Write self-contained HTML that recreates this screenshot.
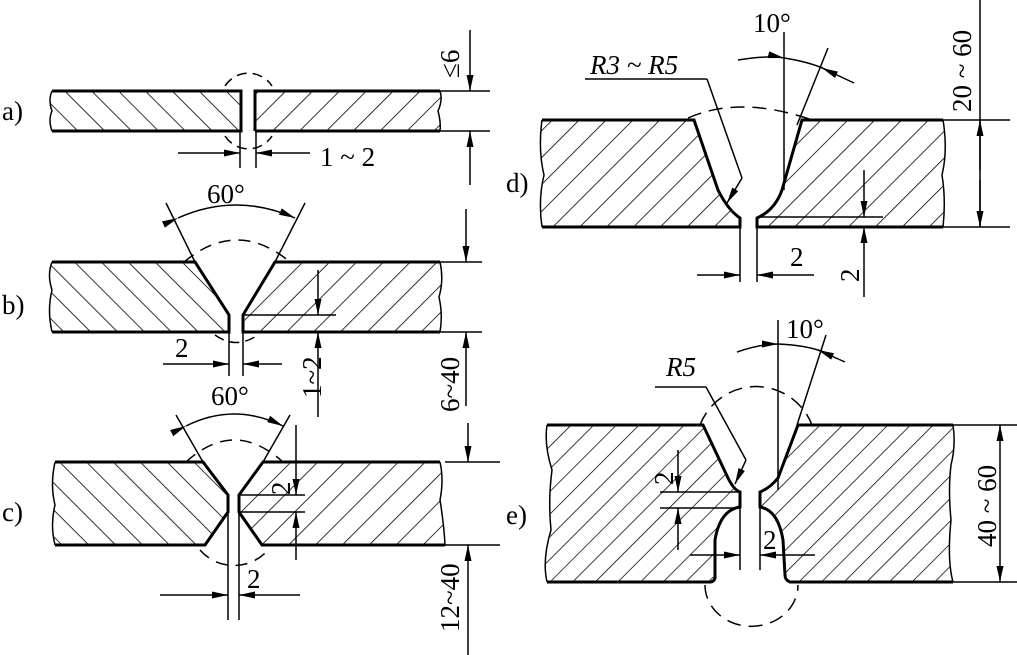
<!DOCTYPE html>
<html><head><meta charset="utf-8"><style>
html,body{margin:0;padding:0;background:#fff;}
svg{display:block;}
text{font-family:"Liberation Serif",serif;fill:#000;}
</style></head><body>
<svg width="1017" height="655" viewBox="0 0 1017 655" xmlns="http://www.w3.org/2000/svg">
<defs>
<pattern id="hb" patternUnits="userSpaceOnUse" width="19" height="19" patternTransform="rotate(-45)">
<line x1="0" y1="0" x2="0" y2="19" stroke="#000" stroke-width="1.6"/></pattern>
<pattern id="hf" patternUnits="userSpaceOnUse" width="19" height="19" patternTransform="rotate(45)">
<line x1="0" y1="0" x2="0" y2="19" stroke="#000" stroke-width="1.6"/></pattern>
<pattern id="hf2" patternUnits="userSpaceOnUse" width="16" height="16" patternTransform="rotate(45)">
<line x1="0" y1="0" x2="0" y2="16" stroke="#000" stroke-width="1.5"/></pattern>
<marker id="ar" viewBox="0 0 16 7" refX="16" refY="3.5" markerWidth="16" markerHeight="7" markerUnits="userSpaceOnUse" orient="auto">
<path d="M0,0 L16,3.5 L0,7 Z" fill="#000"/></marker>
</defs>

<g stroke="#000" fill="none" stroke-width="1.5">
<!-- ===== a ===== -->
<path d="M52,91 L241,91 L241,131 L52,131 Q48,120 52,111 Q48,100 52,91Z" fill="url(#hb)" stroke="none"/>
<path d="M255,91 L440,91 Q443,100 438,111 Q441,122 440,131 L255,131Z" fill="url(#hf)" stroke="none"/>
<path d="M52,91 L241,91 L241,131 L52,131 M255,131 L255,91 L440,91 M255,131 L440,131" stroke-width="3"/>
<path d="M52,91 Q48,100 52,111 Q48,120 52,131 M440,91 Q443,100 438,111 Q441,122 440,131"/>
<path d="M225,86 A28,28 0 0 1 272,86 M225,136 A28,28 0 0 0 272,136" stroke-dasharray="10,6"/>
<line x1="240" y1="131" x2="240" y2="168"/><line x1="256" y1="131" x2="256" y2="168"/>
<line x1="178" y1="153" x2="240" y2="153" marker-end="url(#ar)"/>
<line x1="310" y1="153" x2="256" y2="153" marker-end="url(#ar)"/>
<line x1="440" y1="91" x2="490" y2="91"/><line x1="440" y1="131" x2="490" y2="131"/>
<line x1="470" y1="30" x2="470" y2="91" marker-end="url(#ar)"/>
<line x1="470" y1="185" x2="470" y2="131" marker-end="url(#ar)"/>

<!-- ===== b ===== -->
<path d="M52,262 L195,262 L229,315 L229,332 L52,332 Q47,310 52,290 Q47,275 52,262Z" fill="url(#hb)" stroke="none"/>
<path d="M275,262 L440,262 Q444,280 439,297 Q443,315 440,332 L243,332 L243,315Z" fill="url(#hf)" stroke="none"/>
<path d="M52,262 L195,262 L229,315 L229,332 L52,332 M440,262 L275,262 L243,315 L243,332 L440,332" stroke-width="3"/>
<path d="M52,262 Q47,275 52,290 Q47,310 52,332 M440,262 Q444,280 439,297 Q443,315 440,332"/>
<line x1="166" y1="203" x2="195" y2="262"/><line x1="305" y1="203" x2="275" y2="262"/>
<path d="M178,218 Q236,192 295,218" marker-start="url(#ar)" marker-end="url(#ar)"/>
<path d="M184,262 Q237,218 290,262" stroke-dasharray="12,8"/>
<path d="M215,335 Q236,350 258,335" stroke-dasharray="10,6"/>
<line x1="229" y1="332" x2="229" y2="376"/><line x1="243" y1="332" x2="243" y2="376"/>
<line x1="163" y1="364" x2="229" y2="364" marker-end="url(#ar)"/>
<line x1="282" y1="364" x2="243" y2="364" marker-end="url(#ar)"/>
<line x1="243" y1="315" x2="336" y2="315"/>
<line x1="318" y1="270" x2="318" y2="315" marker-end="url(#ar)"/>
<line x1="318" y1="417" x2="318" y2="332" marker-end="url(#ar)"/>
<line x1="440" y1="262" x2="482" y2="262"/><line x1="440" y1="332" x2="482" y2="332"/>
<line x1="466" y1="209" x2="466" y2="262" marker-end="url(#ar)"/>
<line x1="466" y1="406" x2="466" y2="332" marker-end="url(#ar)"/>

<!-- ===== c ===== -->
<path d="M55,462 L203,462 L228,495 L228,512 L205,545 L55,545 Q50,525 55,505 Q50,485 55,462Z" fill="url(#hb)" stroke="none"/>
<path d="M263,462 L440,462 Q444,480 440,500 Q444,525 445,545 L262,545 L239,512 L239,495Z" fill="url(#hf)" stroke="none"/>
<path d="M55,462 L203,462 L228,495 L228,512 L205,545 L55,545 M440,462 L263,462 L239,495 L239,512 L262,545 L445,545" stroke-width="3"/>
<path d="M55,462 Q50,485 55,505 Q50,525 55,545 M440,462 Q444,480 440,500 Q444,525 445,545"/>
<line x1="176" y1="415" x2="203" y2="462"/><line x1="290" y1="415" x2="263" y2="462"/>
<path d="M186,426 Q234,402 283,426" marker-start="url(#ar)" marker-end="url(#ar)"/>
<path d="M186,462 Q234,418 283,462" stroke-dasharray="12,8"/>
<path d="M200,550 A45,45 0 0 0 268,550" stroke-dasharray="12,8"/>
<line x1="228" y1="512" x2="228" y2="620"/><line x1="239" y1="512" x2="239" y2="620"/>
<line x1="160" y1="595" x2="228" y2="595" marker-end="url(#ar)"/>
<line x1="300" y1="595" x2="239" y2="595" marker-end="url(#ar)"/>
<line x1="239" y1="495" x2="305" y2="495"/><line x1="239" y1="512" x2="305" y2="512"/>
<line x1="296" y1="425" x2="296" y2="495" marker-end="url(#ar)"/>
<line x1="296" y1="560" x2="296" y2="512" marker-end="url(#ar)"/>
<line x1="445" y1="462" x2="500" y2="462"/><line x1="445" y1="545" x2="500" y2="545"/>
<line x1="468" y1="423" x2="468" y2="462" marker-end="url(#ar)"/>
<line x1="468" y1="655" x2="468" y2="545" marker-end="url(#ar)"/>

<!-- ===== d ===== -->
<path d="M542,120 L694,120 L718,190 Q728,210 740,218 L740,227 L542,227 Q538,200 544,175 Q538,150 542,120Z" fill="url(#hf)" stroke="none"/>
<path d="M802,120 L943,120 Q948,150 942,175 Q946,200 943,227 L757,227 L757,218 Q775,210 782,190Z" fill="url(#hf)" stroke="none"/>
<path d="M542,120 L694,120 L718,190 Q728,210 740,218 L740,227 L542,227 M943,120 L802,120 L782,190 Q775,210 757,218 L757,227 L943,227" stroke-width="3"/>
<path d="M542,120 Q538,150 544,175 Q538,200 542,227 M943,120 Q948,150 942,175 Q946,200 943,227"/>
<line x1="784" y1="32" x2="784" y2="190"/>
<line x1="828" y1="48" x2="797" y2="125"/>
<path d="M738,60 Q770,55 784,58" marker-end="url(#ar)"/>
<path d="M784,58 Q810,62 827,70"/>
<line x1="854" y1="83" x2="822" y2="68" marker-end="url(#ar)"/>
<path d="M688,118 Q740,95 812,120" stroke-dasharray="14,8"/>
<line x1="585" y1="79" x2="707" y2="79"/>
<line x1="707" y1="79" x2="742" y2="178"/>
<line x1="742" y1="178" x2="727" y2="203" marker-end="url(#ar)"/>
<line x1="740" y1="227" x2="740" y2="282"/><line x1="757" y1="227" x2="757" y2="282"/>
<line x1="697" y1="275" x2="740" y2="275" marker-end="url(#ar)"/>
<line x1="814" y1="275" x2="757" y2="275" marker-end="url(#ar)"/>
<line x1="760" y1="217" x2="883" y2="217"/>
<line x1="864" y1="170" x2="864" y2="217" marker-end="url(#ar)"/>
<line x1="864" y1="297" x2="864" y2="227" marker-end="url(#ar)"/>
<line x1="943" y1="120" x2="1010" y2="120"/><line x1="943" y1="227" x2="1010" y2="227"/>
<line x1="980" y1="0" x2="980" y2="227"/>
<line x1="980" y1="170" x2="980" y2="120" marker-end="url(#ar)"/>
<line x1="980" y1="180" x2="980" y2="227" marker-end="url(#ar)"/>

<!-- ===== e ===== -->
<path d="M547,425 L703,425 L728,478 Q734,490 740,492 L740,507 Q720,510 715,540 L715,578 Q714,582 710,582 L547,582 Q542,560 551,530 Q548,500 552,470 Q544,445 547,425Z" fill="url(#hf2)" stroke="none"/>
<path d="M798,425 L953,425 Q956,445 951,465 Q948,490 951,520 Q947,560 953,582 L790,582 Q785,580 785,575 L783,540 Q778,510 760,507 L760,492 Q770,488 778,478Z" fill="url(#hf2)" stroke="none"/>
<path d="M547,425 L703,425 L728,478 Q734,490 740,492 L740,507 Q720,510 715,540 L715,578 Q714,582 710,582 L547,582 M953,425 L798,425 L778,478 Q770,488 760,492 L760,507 Q778,510 783,540 L785,575 Q785,580 790,582 L953,582" stroke-width="3"/>
<path d="M547,425 Q544,445 552,470 Q548,500 551,530 Q542,560 547,582 M953,425 Q956,445 951,465 Q948,490 951,520 Q947,560 953,582"/>
<line x1="778" y1="320" x2="778" y2="490"/>
<line x1="826" y1="335" x2="797" y2="425"/>
<path d="M737,352 Q760,344 778,344" marker-end="url(#ar)"/>
<path d="M778,344 Q805,345 824,352"/>
<line x1="845" y1="362" x2="818" y2="350" marker-end="url(#ar)"/>
<path d="M700,425 A60,60 0 0 1 812,425" stroke-dasharray="14,8"/>
<path d="M705,585 A45,40 0 0 0 798,585" stroke-dasharray="14,8"/>
<line x1="655" y1="387" x2="706" y2="387"/>
<line x1="706" y1="387" x2="746" y2="460"/>
<line x1="746" y1="460" x2="735" y2="484" marker-end="url(#ar)"/>
<line x1="740" y1="507" x2="740" y2="570"/><line x1="760" y1="507" x2="760" y2="570"/>
<line x1="690" y1="555" x2="740" y2="555" marker-end="url(#ar)"/>
<line x1="815" y1="555" x2="760" y2="555" marker-end="url(#ar)"/>
<line x1="660" y1="492" x2="740" y2="492"/><line x1="660" y1="508" x2="740" y2="508"/>
<line x1="678" y1="450" x2="678" y2="492" marker-end="url(#ar)"/>
<line x1="678" y1="550" x2="678" y2="508" marker-end="url(#ar)"/>
<line x1="953" y1="425" x2="1017" y2="425"/><line x1="953" y1="582" x2="1017" y2="582"/>
<line x1="1000" y1="505" x2="1000" y2="425" marker-end="url(#ar)"/>
<line x1="1000" y1="505" x2="1000" y2="582" marker-end="url(#ar)"/>
</g>

<!-- labels -->
<g font-size="27">
<text x="2" y="120">a)</text>
<text x="2" y="314">b)</text>
<text x="2" y="521">c)</text>
<text x="506" y="192">d)</text>
<text x="506" y="524">e)</text>
<text x="320" y="166">1 ~ 2</text>
<text x="207" y="203">60°</text>
<text x="175" y="357">2</text>
<text x="211" y="405">60°</text>
<text x="247" y="588">2</text>
<text x="790" y="266">2</text>
<text x="763" y="549">2</text>
<text x="753" y="32">10°</text>
<text x="786" y="338">10°</text>
<text x="590" y="74" font-style="italic">R3 ~ R5</text>
<text x="666" y="376" font-style="italic">R5</text>
<text transform="translate(459,78) rotate(-90)">≤6</text>
<text transform="translate(321,398) rotate(-90)">1~2</text>
<text transform="translate(459,412) rotate(-90)">6~40</text>
<text transform="translate(459,632) rotate(-90)">12~40</text>
<text transform="translate(290,495) rotate(-90)">2</text>
<text transform="translate(859,282) rotate(-90)">2</text>
<text transform="translate(673,485) rotate(-90)">2</text>
<text transform="translate(971,112) rotate(-90)">20 ~ 60</text>
<text transform="translate(996,547) rotate(-90)">40 ~ 60</text>
</g>
</svg>
</body></html>
